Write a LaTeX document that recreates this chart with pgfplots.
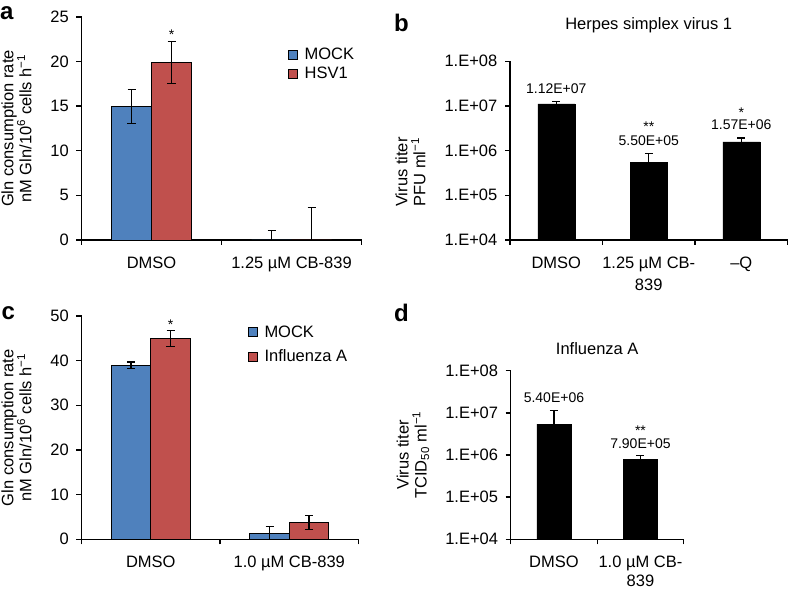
\documentclass[border=0pt]{standalone}
\usepackage{fontspec}
\setmainfont{Liberation Sans}
\usepackage{pgfplots}
\pgfplotsset{compat=1.18}
\definecolor{mockblue}{HTML}{4F81BD}
\definecolor{hsvred}{HTML}{C0504D}
\newcommand{\fs}{\fontsize{16.5bp}{19bp}\selectfont}
\newcommand{\fl}{\fontsize{14bp}{16bp}\selectfont}
\pgfplotsset{
  panel/.style={
    scale only axis,
    axis x line*=bottom, axis y line*=left,
    axis line style={-, line width=1.4bp},
    tick align=outside,
    major tick length=5bp, minor tick length=5bp,
    tick style={black, line width=1.4bp},
    yminorticks=false,
    xticklabels={},
    /pgf/number format/assume math mode=true,
    yticklabel style={font=\fs, anchor=east, inner sep=0pt, xshift=-7.5bp},
    extra x tick style={major tick length=0pt,
      xticklabel style={font=\fontsize{16.5bp}{22bp}\selectfont, anchor=north, inner sep=0pt, yshift=-16.5bp, align=center}},
    ylabel style={font=\fontsize{16.5bp}{18bp}\selectfont, align=center, anchor=center},
    title style={font=\fontsize{16.5bp}{19bp}\selectfont, anchor=base, inner sep=0pt},
    error bars/error bar style={line width=1.1bp, black},
    error bars/error mark options={rotate=90, mark size=4bp, line width=1.1bp, black},
    legend style={draw=none, fill=none, font=\fs, inner sep=0pt, nodes={inner sep=0pt},
      /tikz/every odd column/.append style={column sep=7bp}},
    legend cell align=left,
    legend image code/.code={\draw[#1,/tikz/.cd,line width=0.6bp,draw=black] (0bp,-4.5bp) rectangle (9bp,4.5bp);},
  },
}
\begin{document}
\begin{tikzpicture}[font=\fs]
\useasboundingbox (0,0) rectangle (788bp,591bp);

% ---------------- panel a ----------------
\begin{axis}[panel, at={(81.5bp,351bp)}, anchor=south west, width=280bp, height=223bp,
  xmin=0, xmax=2, ymin=0, ymax=25, ytick={0,5,10,15,20,25},
  xtick={0,1,2}, extra x ticks={0.5,1.5}, extra x tick labels={DMSO, 1.25 µM CB-839},
  ylabel={Gln consumption rate\\nM Gln/10\textsuperscript{6} cells h\textsuperscript{−1}},
  ylabel style={at={(axis description cs:-0.232,0.5)}},
  legend style={at={(axis description cs:0.737,0.862)}, anchor=north west, row sep=6bp}]
\addplot[ybar, bar width=40bp, bar shift=0bp, fill=mockblue, draw=black, line width=0.6bp,
  error bars/.cd, y dir=both, y explicit] coordinates {(0.357143,15.0) +- (0,1.9)};
\addlegendentry{MOCK}
\addplot[ybar, bar width=40bp, bar shift=0bp, fill=hsvred, draw=black, line width=0.6bp,
  error bars/.cd, y dir=both, y explicit] coordinates {(0.642857,19.9) +- (0,2.4)};
\addlegendentry{HSV1}
\addplot[ybar, forget plot, bar width=40bp, bar shift=0bp, fill=mockblue, draw=mockblue, line width=0.6bp,
  error bars/.cd, y dir=both, y explicit] coordinates {(1.357143,0) +- (0,1.1)};
\addplot[ybar, forget plot, bar width=40bp, bar shift=0bp, fill=hsvred, draw=hsvred, line width=0.6bp,
  error bars/.cd, y dir=both, y explicit] coordinates {(1.642857,0) +- (0,3.6)};
\node[font=\fl, anchor=base, inner sep=0pt] at ([yshift=1.3bp]axis cs:0.642857,22.3) {*};
\end{axis}

% ---------------- panel b ----------------
\begin{axis}[panel, at={(510bp,351bp)}, anchor=south west, width=277.5bp, height=178.7bp,
  ymode=log, xmin=0, xmax=3, ymin=1e4, ymax=1e8,
  ytick={1e4,1e5,1e6,1e7,1e8}, yticklabels={1.E+04,1.E+05,1.E+06,1.E+07,1.E+08},
  xtick={0,1,2,3}, extra x ticks={0.5,1.5,2.5}, extra x tick labels={DMSO, 1.25 µM CB-\\839, \textendash Q},
  ylabel={Virus titer\\PFU ml\textsuperscript{−1}},
  ylabel style={at={(axis description cs:-0.359,0.38)}},
  title={Herpes simplex virus 1},
  title style={at={(axis description cs:0.5,1)}, yshift=26bp}]
\addplot[ybar, bar width=37bp, bar shift=0bp, fill=black, draw=black,
  error bars/.cd, y dir=plus, y explicit] coordinates {(0.5,1.12e7) += (0,1.3e6) (1.5,5.5e5) += (0,3.0e5) (2.5,1.57e6) += (0,3.5e5)};
\node[font=\fl, anchor=base, inner sep=0pt] at ([yshift=10.5bp]axis cs:0.5,1.12e7) {1.12E+07};
\node[font=\fl, anchor=base, inner sep=0pt] at ([yshift=17.2bp]axis cs:1.5,5.5e5) {5.50E+05};
\node[font=\fl, anchor=base, inner sep=0pt] at ([yshift=30.6bp]axis cs:1.5,5.5e5) {**};
\node[font=\fl, anchor=base, inner sep=0pt] at ([yshift=11.9bp]axis cs:2.5,1.57e6) {1.57E+06};
\node[font=\fl, anchor=base, inner sep=0pt] at ([yshift=24.6bp]axis cs:2.5,1.57e6) {*};
\end{axis}

% ---------------- panel c ----------------
\begin{axis}[panel, at={(81.5bp,51.7bp)}, anchor=south west, width=277bp, height=223.3bp,
  xmin=0, xmax=2, ymin=0, ymax=50, ytick={0,10,20,30,40,50},
  xtick={0,1,2}, extra x ticks={0.5,1.5}, extra x tick labels={DMSO, 1.0 µM CB-839},
  ylabel={Gln consumption rate\\nM Gln/10\textsuperscript{6} cells h\textsuperscript{−1}},
  ylabel style={at={(axis description cs:-0.235,0.5)}},
  legend style={at={(axis description cs:0.60,0.958)}, anchor=north west, row sep=11bp}]
\addplot[ybar, bar width=39.5bp, bar shift=0bp, fill=mockblue, draw=black, line width=0.6bp,
  error bars/.cd, y dir=both, y explicit] coordinates {(0.3574,39.0) +- (0,0.7) (1.3574,1.26) +- (0,1.7)};
\addlegendentry{MOCK}
\addplot[ybar, bar width=39.5bp, bar shift=0bp, fill=hsvred, draw=black, line width=0.6bp,
  error bars/.cd, y dir=both, y explicit] coordinates {(0.6426,44.9) +- (0,1.8) (1.6426,3.8) +- (0,1.55)};
\addlegendentry{Influenza A}
\node[font=\fl, anchor=base, inner sep=0pt] at ([yshift=1bp]axis cs:0.6426,46.7) {*};
\end{axis}

% ---------------- panel d ----------------
\begin{axis}[panel, at={(510.7bp,51.7bp)}, anchor=south west, width=173bp, height=168.6bp,
  ymode=log, xmin=0, xmax=2, ymin=1e4, ymax=1e8,
  ytick={1e4,1e5,1e6,1e7,1e8}, yticklabels={1.E+04,1.E+05,1.E+06,1.E+07,1.E+08},
  xtick={0,1,2}, extra x ticks={0.5,1.5}, extra x tick labels={DMSO, 1.0 µM CB-\\839},
  extra x tick style={xticklabel style={font=\fontsize{16.5bp}{18.5bp}\selectfont}},
  ylabel={Virus titer\\TCID\textsubscript{50} ml\textsuperscript{−1}},
  ylabel style={at={(axis description cs:-0.565,0.5)}},
  title={Influenza A},
  title style={at={(axis description cs:0.5,1)}, yshift=10bp}]
\addplot[ybar, bar width=34bp, bar shift=0bp, fill=black, draw=black,
  error bars/.cd, y dir=plus, y explicit] coordinates {(0.5,5.4e6) += (0,5.7e6) (1.5,7.9e5) += (0,1.6e5)};
\node[font=\fl, anchor=base, inner sep=0pt] at ([yshift=22bp]axis cs:0.5,5.4e6) {5.40E+06};
\node[font=\fl, anchor=base, inner sep=0pt] at ([yshift=11bp]axis cs:1.5,7.9e5) {7.90E+05};
\node[font=\fl, anchor=base, inner sep=0pt] at ([yshift=24.3bp]axis cs:1.5,7.9e5) {**};
\end{axis}

% panel letters
\node[font=\fontsize{24bp}{24bp}\selectfont\bfseries, anchor=base west, inner sep=0pt] at (0bp,571bp) {a};
\node[font=\fontsize{24bp}{24bp}\selectfont\bfseries, anchor=base west, inner sep=0pt] at (394bp,559.3bp) {b};
\node[font=\fontsize{24bp}{24bp}\selectfont\bfseries, anchor=base west, inner sep=0pt] at (1.5bp,271bp) {c};
\node[font=\fontsize{24bp}{24bp}\selectfont\bfseries, anchor=base west, inner sep=0pt] at (394bp,269.3bp) {d};
\end{tikzpicture}
\end{document}
